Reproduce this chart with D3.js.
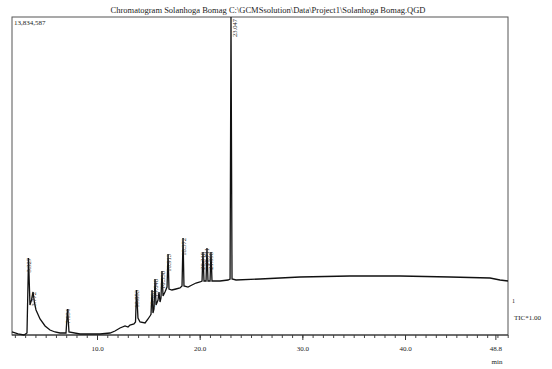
<!DOCTYPE html>
<html>
<head>
<meta charset="utf-8">
<script src="https://cdn.jsdelivr.net/npm/d3@7"></script>
<style>
  html, body { margin: 0; padding: 0; background: #fff; }
  svg { display: block; }
  text { font-family: "Liberation Serif", "DejaVu Serif", serif; fill: #222; }
</style>
</head>
<body>
<figure id="chrom" style="margin:0"></figure>
<script>
// TIC trace (time in min, intensity in thousand counts)
const times = [1.72, 2.31, 2.89, 3.18, 3.33, 3.47, 3.62, 3.77, 3.91, 4.06, 4.45, 4.94, 5.42, 5.91, 6.40, 6.98, 7.13, 7.27, 8.34,
  10.29, 11.27, 11.75, 12.24, 12.73, 13.02, 13.21, 13.60, 13.75, 13.85, 13.99, 14.19, 14.68, 14.97, 15.16, 15.26, 15.36, 15.45,
  15.55, 15.65, 15.75, 15.94, 16.04, 16.14, 16.23, 16.33, 16.43, 16.62, 16.82, 16.92, 17.01, 17.30, 17.69, 18.08, 18.28, 18.38,
  18.47, 18.86, 19.25, 19.64, 20.03, 20.23, 20.32, 20.42, 20.62, 20.71, 20.81, 21.01, 21.10, 21.20, 21.98, 22.76, 22.96, 23.05,
  23.15, 23.54, 25.88, 29.77, 34.64, 39.51, 44.38, 48.28, 49.25, 50.03];
const intensity = [131, 44, 0, 87, 3350, 1305, 1523, 1871, 1392, 1088, 696, 392, 218, 131, 87, 87, 1131, 131, 44,
  44, 87, 174, 305, 392, 348, 435, 479, 566, 1958, 740, 566, 522, 696, 827, 900, 1958, 957,
  1131, 2436, 1305, 1523, 1871, 1436, 1610, 2784, 1697, 1871, 2088, 3524, 2001, 1958, 2001, 2045, 2132, 4220,
  2132, 2088, 2175, 2262, 2306, 2349, 3611, 2349, 2349, 3785, 2349, 2349, 3611, 2349, 2349, 2393, 2436, 13834.587,
  2436, 2393, 2436, 2523, 2567, 2567, 2523, 2480, 2393, 2349];

// labelled peaks (retention times)
const peakTimes = [3.33, 3.77, 7.13, 13.85, 15.36, 15.65, 16.33, 16.92, 18.38, 20.32, 20.71, 21.10, 23.05];
const peakLabels = ["3.327", "3.772", "7.134", "13.853", "15.361", "15.648", "16.330", "16.913", "18.372", "20.318", "20.711", "21.098", "23.047"];

const majorTicks = [10, 20, 30, 40, 48.8];
const minorTicks = d3.range(2, 51, 1);

const title = "Chromatogram Solanhoga Bomag C:\\GCMSsolution\\Data\\Project1\\Solanhoga Bomag.QGD";
const maxLabel = "13,834,587";

const W = 552, H = 369;
const mLeft = 12, mRight = 508, mTop = 17, mBottom = 335;

const svg = d3.select("figure#chrom")
  .append("svg")
  .attr("width", W)
  .attr("height", H);

const x = d3.scaleLinear().domain([1.72, 50.03]).range([mLeft, mRight]);
const y = d3.scaleLinear().domain([0, 13834.587]).range([mBottom, mTop]);

// frame
svg.append("rect")
  .attr("x", mLeft).attr("y", mTop)
  .attr("width", mRight - mLeft).attr("height", mBottom - mTop)
  .attr("fill", "none").attr("stroke", "#555").attr("stroke-width", 1);

// title
svg.append("text")
  .attr("x", 268).attr("y", 13)
  .attr("text-anchor", "middle")
  .attr("textLength", 315)
  .attr("lengthAdjust", "spacingAndGlyphs")
  .style("font-size", "8px")
  .text(title);

svg.append("text")
  .attr("x", mLeft + 2).attr("y", 25)
  .style("font-size", "7px")
  .text(maxLabel);

// minor ticks
svg.append("g")
  .attr("transform", "translate(0," + mBottom + ")")
  .call(d3.axisBottom(x).tickValues(minorTicks).tickSize(3).tickFormat(""))
  .call(g => g.select(".domain").remove())
  .selectAll("line").attr("stroke", "#444");

// major ticks + labels
const xAxis = svg.append("g")
  .attr("transform", "translate(0," + mBottom + ")")
  .call(d3.axisBottom(x).tickValues(majorTicks).tickSize(5).tickPadding(6).tickFormat(d3.format(".1f")));
xAxis.select(".domain").attr("stroke", "#333").attr("d", "M" + mLeft + ",0H" + mRight);
xAxis.selectAll("line").attr("stroke", "#333");
xAxis.selectAll("text")
  .style("font-family", "Liberation Serif, serif")
  .style("font-size", "7px")
  .attr("fill", "#333");

svg.append("text")
  .attr("x", 497).attr("y", 364)
  .attr("text-anchor", "middle")
  .style("font-size", "7px")
  .text("min");

svg.append("text")
  .attr("x", 512).attr("y", 303)
  .style("font-size", "6px")
  .text("1");

svg.append("text")
  .attr("x", 514).attr("y", 320)
  .style("font-size", "7px")
  .text("TIC*1.00");

// trace
const points = times.map((t, i) => [t, intensity[i]]);
const line = d3.line()
  .x(d => x(d[0]))
  .y(d => y(d[1]));

svg.append("path")
  .datum(points)
  .attr("d", line)
  .attr("fill", "none")
  .attr("stroke", "#111")
  .attr("stroke-width", 1.3)
  .attr("stroke-linejoin", "miter");

// peak labels, vertical, hanging down from the peak top
svg.selectAll(".plabel")
  .data(peakTimes)
  .enter()
  .append("text")
  .attr("class", "plabel")
  .attr("transform", (d, i) => {
    const idx = times.indexOf(d);
    const py = Math.max(y(intensity[idx]), mTop + 2);
    const px = x(d) + (py <= mTop + 2 ? 6 : 2.5);
    return "translate(" + px + "," + py + ")rotate(-90)";
  })
  .attr("text-anchor", "end")
  .style("font-size", "6.5px")
  .text((d, i) => peakLabels[i]);
</script>
</body>
</html>
